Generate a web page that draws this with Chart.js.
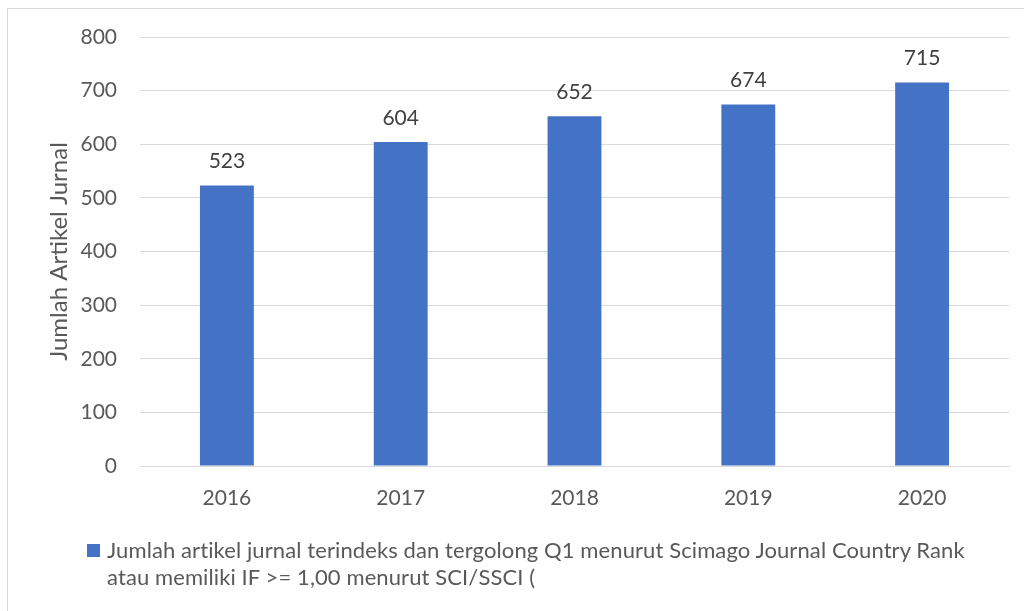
<!DOCTYPE html>
<html>
<head>
<meta charset="utf-8">
<script src="https://cdn.jsdelivr.net/npm/chart.js@4"></script>
<style>
  html, body { margin: 0; padding: 0; background: #fff; }
  body { width: 1024px; height: 611px; position: relative; overflow: hidden; font-family: Lato, sans-serif; }
  #frame { position: absolute; left: 7px; top: 8px; width: 1100px; height: 700px; border: 1px solid #d9d9d9; box-sizing: border-box; }
  #chart { position: absolute; left: 0; top: 0; }
  #legend { position: absolute; left: 87px; top: 536px; color: #595959; font-size: 22px; line-height: 27px; letter-spacing: 0.1px; }
  #legend .box { position: absolute; left: 0; top: 8px; width: 13px; height: 13px; background: #4472C4; }
  #legend .txt { margin-left: 20px; width: 920px; }
</style>
</head>
<body>
<div id="frame"></div>
<canvas id="chart" width="1024" height="611"></canvas>
<div id="legend"><div class="box"></div><div class="txt" id="legend-text"></div></div>
<script>
// Data
const years = ['2016', '2017', '2018', '2019', '2020'];
const articleCounts = [523, 604, 652, 674, 715];
const seriesLabel = 'Jumlah artikel jurnal terindeks dan tergolong Q1 menurut Scimago Journal Country Rank atau memiliki IF >= 1,00 menurut SCI/SSCI (';
const seriesLabelLines = [
  'Jumlah artikel jurnal terindeks dan tergolong Q1 menurut Scimago Journal Country Rank',
  'atau memiliki IF >= 1,00 menurut SCI/SSCI ('
];
const yTitle = 'Jumlah Artikel Jurnal';

const barColor = '#4472C4';
const textColor = '#595959';

// Value labels above each bar
const valueLabels = {
  id: 'valueLabels',
  afterDatasetsDraw(chart) {
    const ctx = chart.ctx;
    const meta = chart.getDatasetMeta(0);
    ctx.save();
    ctx.font = '21px Lato';
    ctx.fillStyle = '#404040';
    ctx.textAlign = 'center';
    ctx.textBaseline = 'middle';
    meta.data.forEach((bar, i) => {
      ctx.fillText(String(chart.data.datasets[0].data[i]), bar.x, bar.y - 24);
    });
    ctx.restore();
  }
};

document.getElementById('legend-text').innerHTML = seriesLabelLines
  .map(l => l.replace(/&/g, '&amp;').replace(/</g, '&lt;').replace(/>/g, '&gt;'))
  .join('<br>');

new Chart(document.getElementById('chart'), {
  type: 'bar',
  data: {
    labels: years,
    datasets: [{
      label: seriesLabel,
      data: articleCounts,
      backgroundColor: barColor,
      categoryPercentage: 1,
      barPercentage: 0.31
    }]
  },
  options: {
    responsive: false,
    animation: false,
    layout: { padding: { top: 37, right: 15, bottom: 0, left: 0 } },
    plugins: {
      legend: { display: false },
      tooltip: { enabled: false }
    },
    scales: {
      x: {
        grid: { display: false, drawTicks: false },
        border: { color: '#d9d9d9', width: 1 },
        ticks: { color: textColor, font: { family: 'Lato', size: 21 }, padding: 20 },
        afterFit: (scale) => { scale.height = 145; }
      },
      y: {
        min: 0,
        max: 800,
        ticks: { stepSize: 100, color: textColor, font: { family: 'Lato', size: 21 }, padding: 23 },
        grid: { color: '#d9d9d9', lineWidth: 1, drawTicks: false },
        border: { display: false },
        title: {
          display: true,
          text: yTitle,
          color: textColor,
          font: { family: 'Lato', size: 24 },
          padding: { top: 45, bottom: 0 }
        },
        afterFit: (scale) => { scale.width = 140; }
      }
    }
  },
  plugins: [valueLabels]
});
</script>
</body>
</html>
